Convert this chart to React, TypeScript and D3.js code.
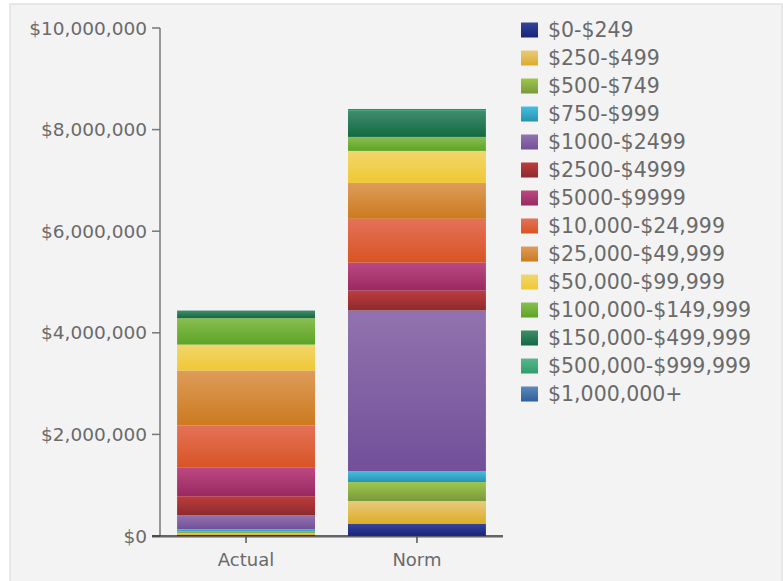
import React from "react";
import * as d3 from "d3";

const categories = ["Actual", "Norm"];
const seriesNames = [
  "$0-$249",
  "$250-$499",
  "$500-$749",
  "$750-$999",
  "$1000-$2499",
  "$2500-$4999",
  "$5000-$9999",
  "$10,000-$24,999",
  "$25,000-$49,999",
  "$50,000-$99,999",
  "$100,000-$149,999",
  "$150,000-$499,999",
  "$500,000-$999,999",
  "$1,000,000+",
];
const actualValues = [20000, 40000, 30000, 45000, 275000, 373000, 570000, 825000, 1080000, 510000, 520000, 150000, 0, 0];
const normValues = [236000, 452000, 373000, 216000, 3163000, 390000, 550000, 864000, 707000, 630000, 275000, 510000, 20000, 20000];
const colorTops = ["#34449a", "#e8ca7c", "#a0c64c", "#44bfe2", "#9272ae", "#be3c3c", "#bc4882", "#e47258", "#de9c5a", "#f2d66c", "#8abe52", "#408c6c", "#5ab68c", "#5c8aba"];
const colorBottoms = ["#18227a", "#dcac26", "#789a3c", "#2892ae", "#72509a", "#8c2a2e", "#982a60", "#d85424", "#cc7a1e", "#f0c834", "#5ca424", "#126a42", "#2e9e6e", "#2e5e9e"];
const yTicks = [0, 2000000, 4000000, 6000000, 8000000, 10000000];

export default function App() {
  const W = 783, H = 581;
  const x = d3.scaleBand().domain(categories).range([160, 503]).paddingInner(0.193).paddingOuter(0.1);
  const y = d3.scaleLinear().domain([0, 10000000]).range([536, 28]);
  const data = categories.map((c, i) => {
    const row: any = { cat: c };
    seriesNames.forEach((s, j) => { row[s] = (i === 0 ? actualValues : normValues)[j]; });
    return row;
  });
  const stacked = d3.stack().keys(seriesNames)(data as any);
  const fmt = (v: number) => "$" + d3.format(",")(v);
  const textColor = "#6a6a6a";
  const font = "'DejaVu Sans', Verdana, sans-serif";

  return (
    <svg width={W} height={H} style={{ position: "absolute", left: 0, top: 0, background: "#fff" }} fontFamily={font}>
      <defs>
        {seriesNames.map((s, j) => (
          <linearGradient key={s} id={"g" + j} x1="0" y1="0" x2="0" y2="1">
            <stop offset="0%" stopColor={colorTops[j]} />
            <stop offset="100%" stopColor={colorBottoms[j]} />
          </linearGradient>
        ))}
      </defs>
      <rect x={10} y={4} width={772} height={580} fill="#f3f3f3" stroke="#e2e2e2" strokeWidth={1.5} />
      {stacked.map((layer, j) => (
        <g key={seriesNames[j]}>
          {layer.map((d: any, i: number) => {
            const h = y(d[0]) - y(d[1]);
            if (h <= 0) return null;
            return (
              <rect key={i} x={x(categories[i])} width={x.bandwidth()} y={y(d[1])} height={h} fill={`url(#g${j})`} />
            );
          })}
        </g>
      ))}
      <line x1={160} x2={160} y1={28} y2={536} stroke="#777" strokeWidth={1.5} />
      {yTicks.map((t) => (
        <g key={t}>
          <line x1={152} x2={160} y1={y(t)} y2={y(t)} stroke="#777" strokeWidth={1.5} />
          <text x={147} y={y(t)} dy="0.36em" textAnchor="end" fontSize={18.5} fill={textColor}>{fmt(t)}</text>
        </g>
      ))}
      <line x1={152} x2={503} y1={536} y2={536} stroke="#333" strokeWidth={1.5} />
      <line x1={152} x2={503} y1={537.5} y2={537.5} stroke="#aaa" strokeWidth={1} />
      {categories.map((c) => {
        const cx = (x(c) as number) + x.bandwidth() / 2;
        return (
          <g key={c}>
            <line x1={cx} x2={cx} y1={536} y2={543} stroke="#555" strokeWidth={1.5} />
            <text x={cx} y={566} textAnchor="middle" fontSize={18} fill={textColor}>{c}</text>
          </g>
        );
      })}
      {seriesNames.map((s, j) => {
        const cy = 30 + j * 28;
        return (
          <g key={s}>
            <rect x={521} y={cy - 7.5} width={17} height={15} fill={`url(#g${j})`} />
            <text x={548} y={cy} dy="0.36em" fontSize={20.5} fill={textColor}>{s}</text>
          </g>
        );
      })}
    </svg>
  );
}
